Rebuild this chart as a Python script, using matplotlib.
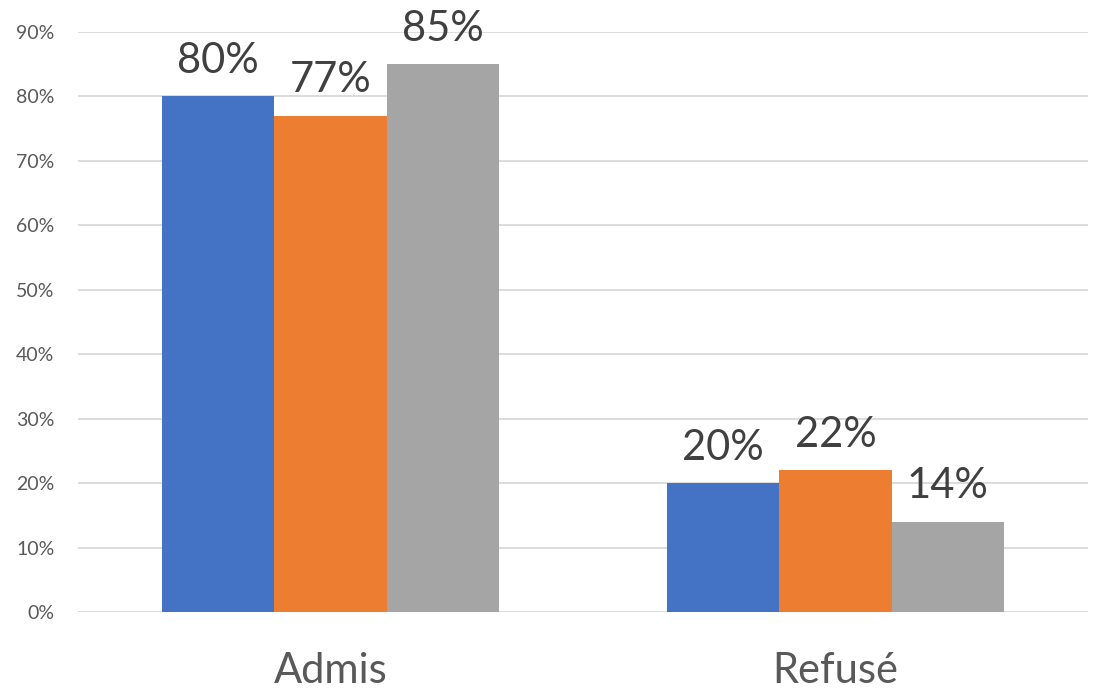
import matplotlib.pyplot as plt
import numpy as np

plt.rcParams['font.family'] = ['Lato', 'DejaVu Sans']

categories = ["Admis", "Refusé"]
serie1 = [80, 20]
serie2 = [77, 22]
serie3 = [85, 14]
yticks = [0, 10, 20, 30, 40, 50, 60, 70, 80, 90]

colors = ["#4472C4", "#ED7D31", "#A5A5A5"]

fig = plt.figure(figsize=(10.94, 7.0), dpi=100)
ax = fig.add_axes([78 / 1094, 88 / 700, 1010 / 1094, 580 / 700])

x = np.arange(len(categories))
w = 1 / 4.5
for i, vals in enumerate([serie1, serie2, serie3]):
    bars = ax.bar(x + (i - 1) * w, vals, width=w, color=colors[i], zorder=3)
    for b, v in zip(bars, vals):
        ax.annotate(f"{v}%", (b.get_x() + b.get_width() / 2, v),
                    xytext=(0, 17), textcoords="offset points",
                    ha="center", va="baseline", fontsize=30, color="#404040")

ax.set_xlim(-0.5, 1.5)
ax.set_ylim(0, 90)
ax.set_yticks(yticks)
ax.set_yticklabels([f"{t}%" for t in yticks], fontsize=14, color="#595959")
ax.set_xticks(x)
ax.set_xticklabels(categories, fontsize=30, color="#595959")
ax.tick_params(axis="y", length=0, pad=17)
ax.tick_params(axis="x", length=0, pad=29)
ax.grid(axis="y", color="#D9D9D9", linewidth=1.3, zorder=0)
for s in ax.spines.values():
    s.set_visible(False)

fig.savefig("out.png", dpi=100)
